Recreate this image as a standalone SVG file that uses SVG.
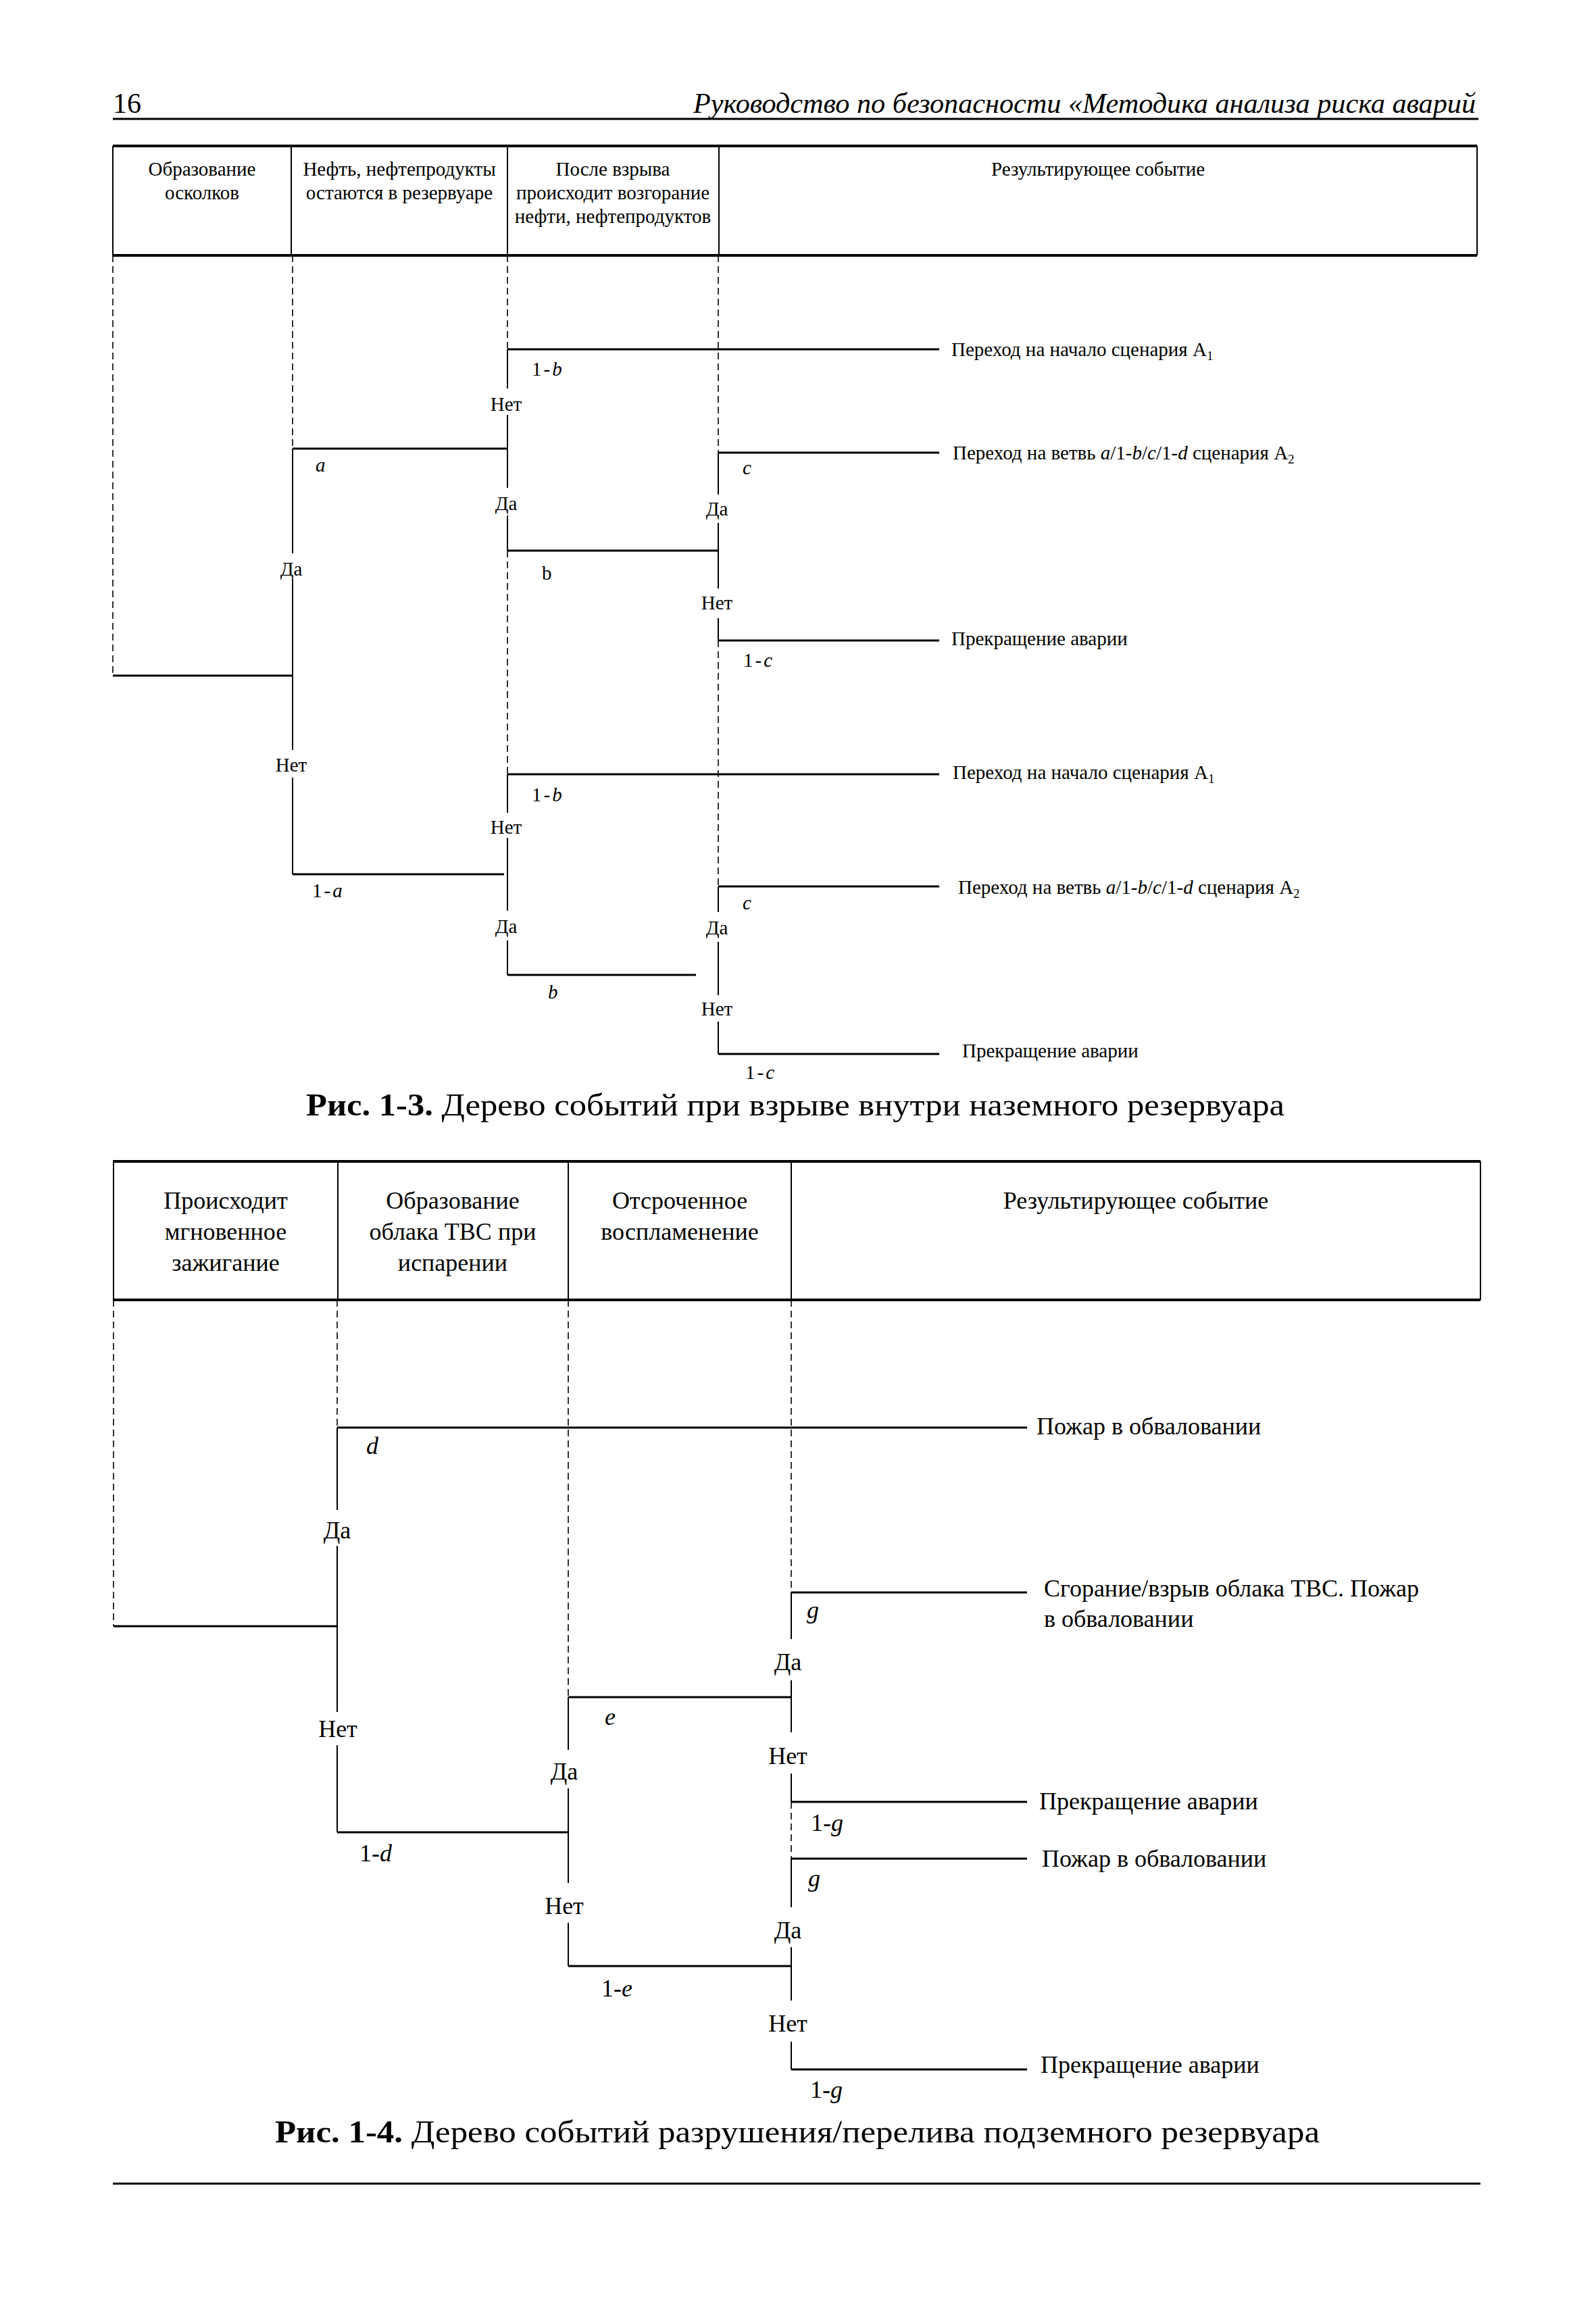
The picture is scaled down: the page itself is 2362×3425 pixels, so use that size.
<svg xmlns="http://www.w3.org/2000/svg" width="2362" height="3425" viewBox="0 0 2362 3425">
<style>
text{font-family:"Liberation Serif","Times New Roman",serif;fill:#000}
.s{font-size:29px}
.m{font-size:36px}
.c{text-anchor:middle}
.i{font-style:italic}
.th{stroke:#000;stroke-width:4;fill:none}
.tv{stroke:#000;stroke-width:2;fill:none}
.h{stroke:#000;stroke-width:3;fill:none}
.v{stroke:#000;stroke-width:2;fill:none}
.d{stroke:#000;stroke-width:1.6;stroke-dasharray:10 6;fill:none}
</style>
<rect width="2362" height="3425" fill="#fff"/>

<g id="page-header">
<text x="167" y="167" font-size="42">16</text>
<text x="2184" y="167" font-size="42" class="i" text-anchor="end" textLength="1158" lengthAdjust="spacingAndGlyphs">Руководство по безопасности «Методика анализа риска аварий</text>
<line x1="167" y1="176" x2="2188" y2="176" stroke="#000" stroke-width="3"/>
</g>

<g id="table-1">
<line class="th" x1="167" y1="216" x2="2186" y2="216"/>
<line class="th" x1="167" y1="378" x2="2186" y2="378"/>
<line class="tv" x1="167" y1="216" x2="167" y2="378"/>
<line class="tv" x1="431" y1="216" x2="431" y2="378"/>
<line class="tv" x1="751" y1="216" x2="751" y2="378"/>
<line class="tv" x1="1064" y1="216" x2="1064" y2="378"/>
<line class="tv" x1="2186" y1="216" x2="2186" y2="378"/>
<text class="s c" x="299" y="260">Образование</text>
<text class="s c" x="299" y="295">осколков</text>
<text class="s c" x="591" y="260">Нефть, нефтепродукты</text>
<text class="s c" x="591" y="295">остаются в резервуаре</text>
<text class="s c" x="907" y="260">После взрыва</text>
<text class="s c" x="907" y="295">происходит возгорание</text>
<text class="s c" x="907" y="330">нефти, нефтепродуктов</text>
<text class="s c" x="1625" y="260">Результирующее событие</text>
</g>

<g id="connectors-1">
<line class="d" x1="167" y1="378" x2="167" y2="1000"/>
<line class="d" x1="433" y1="378" x2="433" y2="664"/>
<line class="d" x1="751" y1="378" x2="751" y2="517"/>
<line class="d" x1="751" y1="815" x2="751" y2="1146"/>
<line class="d" x1="1063" y1="378" x2="1063" y2="670"/>
<line class="d" x1="1063" y1="948" x2="1063" y2="1312"/>
<line class="h" x1="167" y1="1000" x2="433" y2="1000"/>
<line class="h" x1="433" y1="664" x2="751" y2="664"/>
<line class="h" x1="433" y1="1294" x2="746" y2="1294"/>
<line class="h" x1="751" y1="517" x2="1390" y2="517"/>
<line class="h" x1="751" y1="815" x2="1063" y2="815"/>
<line class="h" x1="1063" y1="670" x2="1390" y2="670"/>
<line class="h" x1="1063" y1="948" x2="1390" y2="948"/>
<line class="h" x1="751" y1="1146" x2="1390" y2="1146"/>
<line class="h" x1="751" y1="1443" x2="1030" y2="1443"/>
<line class="h" x1="1063" y1="1312" x2="1390" y2="1312"/>
<line class="h" x1="1063" y1="1560" x2="1390" y2="1560"/>
<path class="v" d="M433 664V819M433 857V1110M433 1151V1294"/>
<path class="v" d="M751 517V575M751 614V722M751 763V815"/>
<path class="v" d="M1063 670V732M1063 774V871M1063 915V948"/>
<path class="v" d="M751 1146V1203M751 1240V1348M751 1392V1443"/>
<path class="v" d="M1063 1312V1350M1063 1394V1473M1063 1512V1560"/>
</g>

<g id="nodes-1">
<text class="s c" x="431" y="852">Да</text>
<text class="s c" x="431" y="1142">Нет</text>
<text class="s c" x="749" y="608">Нет</text>
<text class="s c" x="749" y="755">Да</text>
<text class="s c" x="1061" y="763">Да</text>
<text class="s c" x="1061" y="902">Нет</text>
<text class="s c" x="749" y="1234">Нет</text>
<text class="s c" x="749" y="1381">Да</text>
<text class="s c" x="1061" y="1383">Да</text>
<text class="s c" x="1061" y="1503">Нет</text>
</g>

<g id="branch-labels-1">
<text class="s i" x="467" y="698">a</text>
<text class="s" x="462" y="1328" letter-spacing="3">1-<tspan class="i">a</tspan></text>
<text class="s" x="787" y="556" letter-spacing="3">1-<tspan class="i">b</tspan></text>
<text class="s" x="802" y="858">b</text>
<text class="s i" x="1099" y="702">c</text>
<text class="s" x="1100" y="987" letter-spacing="3">1-<tspan class="i">c</tspan></text>
<text class="s" x="787" y="1186" letter-spacing="3">1-<tspan class="i">b</tspan></text>
<text class="s i" x="811" y="1478">b</text>
<text class="s i" x="1099" y="1346">c</text>
<text class="s" x="1103" y="1597" letter-spacing="3">1-<tspan class="i">c</tspan></text>
</g>

<g id="outcomes-1">
<text class="s" x="1408" y="527">Переход на начало сценария А<tspan font-size="19" dy="6">1</tspan></text>
<text class="s" x="1410" y="680">Переход на ветвь <tspan class="i">a</tspan>/1-<tspan class="i">b</tspan>/<tspan class="i">c</tspan>/1-<tspan class="i">d</tspan> сценария А<tspan font-size="19" dy="6">2</tspan></text>
<text class="s" x="1408" y="955">Прекращение аварии</text>
<text class="s" x="1410" y="1153">Переход на начало сценария А<tspan font-size="19" dy="6">1</tspan></text>
<text class="s" x="1418" y="1323">Переход на ветвь <tspan class="i">a</tspan>/1-<tspan class="i">b</tspan>/<tspan class="i">c</tspan>/1-<tspan class="i">d</tspan> сценария А<tspan font-size="19" dy="6">2</tspan></text>
<text class="s" x="1424" y="1565">Прекращение аварии</text>
</g>

<g id="caption-1">
<text x="453" y="1651" font-size="46" textLength="1448" lengthAdjust="spacingAndGlyphs"><tspan font-weight="bold">Рис. 1-3.</tspan> Дерево событий при взрыве внутри наземного резервуара</text>
</g>

<g id="table-2">
<line class="th" x1="167" y1="1719" x2="2191" y2="1719"/>
<line class="th" x1="167" y1="1924" x2="2191" y2="1924"/>
<line class="tv" x1="168" y1="1719" x2="168" y2="1924"/>
<line class="tv" x1="500" y1="1719" x2="500" y2="1924"/>
<line class="tv" x1="841" y1="1719" x2="841" y2="1924"/>
<line class="tv" x1="1171" y1="1719" x2="1171" y2="1924"/>
<line class="tv" x1="2191" y1="1719" x2="2191" y2="1924"/>
<text class="m c" x="334" y="1789">Происходит</text>
<text class="m c" x="334" y="1835">мгновенное</text>
<text class="m c" x="334" y="1881">зажигание</text>
<text class="m c" x="670" y="1789">Образование</text>
<text class="m c" x="670" y="1835">облака ТВС при</text>
<text class="m c" x="670" y="1881">испарении</text>
<text class="m c" x="1006" y="1789">Отсроченное</text>
<text class="m c" x="1006" y="1835">воспламенение</text>
<text class="m c" x="1681" y="1789">Результирующее событие</text>
</g>

<g id="connectors-2">
<line class="d" x1="168" y1="1924" x2="168" y2="2407"/>
<line class="d" x1="499" y1="1924" x2="499" y2="2113"/>
<line class="d" x1="841" y1="1924" x2="841" y2="2512"/>
<line class="d" x1="1171" y1="1924" x2="1171" y2="2357"/>
<line class="d" x1="1171" y1="2667" x2="1171" y2="2751"/>
<line class="h" x1="168" y1="2407" x2="499" y2="2407"/>
<line class="h" x1="499" y1="2113" x2="1520" y2="2113"/>
<line class="h" x1="499" y1="2712" x2="841" y2="2712"/>
<line class="h" x1="841" y1="2512" x2="1171" y2="2512"/>
<line class="h" x1="841" y1="2910" x2="1171" y2="2910"/>
<line class="h" x1="1171" y1="2357" x2="1520" y2="2357"/>
<line class="h" x1="1171" y1="2667" x2="1520" y2="2667"/>
<line class="h" x1="1171" y1="2751" x2="1520" y2="2751"/>
<line class="h" x1="1171" y1="3063" x2="1520" y2="3063"/>
<path class="v" d="M499 2113V2235M499 2288V2534M499 2583V2712"/>
<path class="v" d="M841 2512V2590M841 2647V2787M841 2846V2910"/>
<path class="v" d="M1171 2357V2426M1171 2487V2564M1171 2625V2667"/>
<path class="v" d="M1171 2751V2823M1171 2882V2961M1171 3022V3063"/>
</g>

<g id="nodes-2">
<text class="m c" x="499" y="2277">Да</text>
<text class="m c" x="500" y="2571">Нет</text>
<text class="m c" x="835" y="2634">Да</text>
<text class="m c" x="835" y="2833">Нет</text>
<text class="m c" x="1166" y="2472">Да</text>
<text class="m c" x="1166" y="2611">Нет</text>
<text class="m c" x="1166" y="2869">Да</text>
<text class="m c" x="1166" y="3007">Нет</text>
</g>

<g id="branch-labels-2">
<text class="m i" x="542" y="2152">d</text>
<text class="m i" x="895" y="2553">e</text>
<text class="m i" x="1194" y="2395">g</text>
<text class="m" x="1200" y="2710">1-<tspan class="i">g</tspan></text>
<text class="m i" x="1196" y="2792">g</text>
<text class="m" x="532" y="2755">1-<tspan class="i">d</tspan></text>
<text class="m" x="890" y="2955">1-<tspan class="i">e</tspan></text>
<text class="m" x="1199" y="3105">1-<tspan class="i">g</tspan></text>
</g>

<g id="outcomes-2">
<text class="m" x="1534" y="2123">Пожар в обваловании</text>
<text class="m" x="1545" y="2363">Сгорание/взрыв облака ТВС. Пожар</text>
<text class="m" x="1545" y="2408">в обваловании</text>
<text class="m" x="1538" y="2678">Прекращение аварии</text>
<text class="m" x="1542" y="2763">Пожар в обваловании</text>
<text class="m" x="1540" y="3068">Прекращение аварии</text>
</g>

<g id="caption-2">
<text x="407" y="3171" font-size="46" textLength="1546" lengthAdjust="spacingAndGlyphs"><tspan font-weight="bold">Рис. 1-4.</tspan> Дерево событий разрушения/перелива подземного резервуара</text>
</g>

<g id="page-footer">
<line x1="167" y1="3232" x2="2191" y2="3232" stroke="#000" stroke-width="3"/>
</g>
</svg>
